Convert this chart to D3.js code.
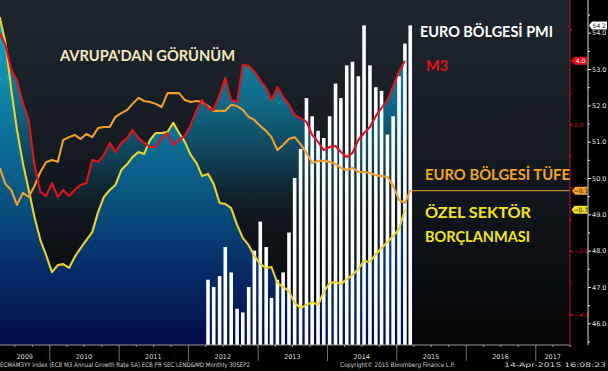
<!DOCTYPE html>
<html>
<head>
<meta charset="utf-8">
<script src="https://cdn.jsdelivr.net/npm/d3@7"></script>
<style>
  html, body { margin: 0; padding: 0; background: #000; }
  svg { display: block; }
</style>
</head>
<body>
<svg id="chart" width="608" height="371"></svg>
<script>
const width = 608;
const height = 371;
const plot = {left: 0, right: 570, top: 0, bottom: 345};

// Monthly series on the left (red) axis, %, starting Apr 2009.
const lineStart = new Date(2009, 3, 15);
const m3 = [
  4.88, 4.50, 3.71, 3.39, 2.67, 2.13, 0.71, -0.14, -0.27, 0.14,
  -0.30, -0.08, -0.27, -0.08, 0.08, 0.14, 0.87, 0.81, 1.03, 1.41,
  1.12, 1.41, 1.56, 1.82, 1.56, 1.41, 1.28, 1.28, 1.56, 1.72,
  1.34, 1.50, 1.63, 1.97, 2.45, 2.76, 2.51, 2.45, 2.92, 3.46,
  2.76, 2.70, 3.87, 3.84, 3.66, 3.39, 3.14, 2.76, 3.17, 2.86,
  2.61, 2.29, 2.19, 2.07, 1.66, 1.44, 1.18, 1.28, 1.31, 1.12,
  0.96, 1.09, 1.50, 1.72, 1.91, 2.26, 2.51, 2.76, 3.20, 3.66, 4.0,
];
const cpi = [
  0.62, 0.11, -0.08, -0.55, -0.17, -0.30, 0.05, 0.49, 0.80, 0.87,
  0.81, 1.50, 1.59, 1.66, 1.53, 1.69, 1.59, 1.88, 1.91, 1.91,
  2.23, 2.35, 2.45, 2.64, 2.83, 2.73, 2.70, 2.64, 2.54, 2.98,
  2.98, 2.98, 2.76, 2.70, 2.73, 2.70, 2.57, 2.42, 2.42, 2.42,
  2.61, 2.57, 2.45, 2.23, 2.13, 1.94, 1.78, 1.59, 1.18, 1.34,
  1.53, 1.59, 1.37, 1.09, 0.77, 0.84, 0.84, 0.81, 0.74, 0.62,
  0.55, 0.62, 0.49, 0.49, 0.46, 0.39, 0.36, 0.33, 0.05, -0.39, -0.49, -0.1,
];
const lending = [
  5.38, 4.59, 3.08, 1.82, 0.77, -0.08, -0.93, -1.66, -2.13, -2.67,
  -2.45, -2.42, -2.54, -2.19, -1.91, -1.66, -1.41, -0.77, -0.30, -0.08,
  0.08, 0.55, 0.74, 0.96, 1.12, 1.06, 1.50, 1.72, 1.72, 1.75,
  2.04, 1.72, 1.44, 1.03, 0.77, 0.36, 0.43, 0.11, -0.49, -0.52,
  -0.65, -1.18, -1.59, -1.82, -2.16, -2.42, -2.54, -2.51, -3.02, -3.14,
  -3.27, -3.65, -3.80, -3.71, -3.62, -3.71, -3.30, -3.02, -2.98, -3.05,
  -2.89, -2.76, -2.57, -2.32, -2.35, -2.10, -1.91, -1.72, -1.53, -1.31, -0.7,
];

// Euro area PMI bars on the right (white) axis, starting Apr 2012.
const pmiStart = new Date(2012, 3, 15);
const pmi = [
  47.2, 47.0, 47.3, 48.1, 47.4, 46.4, 46.3, 47.0, 48.0, 48.8,
  48.1, 46.7, 47.2, 47.4, 48.5, 50.0, 50.8, 52.2, 51.7, 51.3,
  51.1, 51.7, 52.6, 52.2, 53.1, 53.2, 52.8, 54.2, 53.1, 52.5,
  52.4, 51.2, 51.7, 52.8, 53.7, 54.2,
];

const years = [2009, 2010, 2011, 2012, 2013, 2014, 2015, 2016, 2017];
const leftLabelTicks = [-4, -2, 2];
const leftMajorTicks = [-4, -2, 0, 2, 4];
const leftMinorTicks = [-5, -3, -1, 1, 3, 5];
const rightTicks = [46, 47, 48, 49, 50, 51, 52, 53, 54];
const rightMinorTicks = [45.5, 46.5, 47.5, 48.5, 49.5, 50.5, 51.5, 52.5, 53.5, 54.5];

const red = '#e3121b';
const orange = '#f0a02a';
const yellow = '#e9d42c';

const toPoints = (start, values) =>
  values.map((v, i) => ({date: d3.timeMonth.offset(start, i), value: v}));

const m3Data = toPoints(lineStart, m3);
const cpiData = toPoints(lineStart, cpi);
const lendData = toPoints(lineStart, lending);
const pmiData = toPoints(pmiStart, pmi);

const x = d3.scaleTime()
  .domain([new Date(2010, 0, 1), new Date(2017, 0, 1)])
  .range([49.3, 535.3]);
const yLeft = d3.scaleLinear().domain([-4, 4]).range([314.2, 60.8]);
const yRight = d3.scaleLinear().domain([46, 54]).range([323.3, 32.7]);

const svg = d3.select('#chart');
const defs = svg.append('defs');

function gradient(id, stops) {
  defs.append('linearGradient')
    .attr('id', id)
    .attr('gradientUnits', 'userSpaceOnUse')
    .attr('x1', 0).attr('y1', plot.top)
    .attr('x2', 0).attr('y2', plot.bottom)
    .selectAll('stop')
    .data(stops)
    .join('stop')
    .attr('offset', (d) => d[0])
    .attr('stop-color', (d) => d[1])
    .attr('stop-opacity', (d) => (d[2] === undefined ? 1 : d[2]));
}
gradient('bg', [[0, '#1f262f'], [0.6, '#11161c'], [1, '#030405']]);
gradient('fillLend', [[0, '#1aaed0'], [0.3, '#0d80a3'], [0.55, '#0a5884'], [0.78, '#062c68'], [1, '#020b48']]);
gradient('fillM3', [
  [0, '#17a2c4', 0.95], [0.3, '#0e7c9f', 0.8], [0.45, '#0c6688', 0.55],
  [0.56, '#0a5278', 0.2], [0.64, '#08406e', 0.03], [1, '#08406e', 0],
]);

defs.append('clipPath').attr('id', 'plotClip')
  .append('rect')
  .attr('x', plot.left).attr('y', plot.top)
  .attr('width', plot.right - plot.left).attr('height', plot.bottom - plot.top);

svg.append('rect').attr('width', width).attr('height', height).attr('fill', '#000');
svg.append('rect')
  .attr('x', plot.left).attr('y', plot.top)
  .attr('width', plot.right - plot.left).attr('height', plot.bottom - plot.top)
  .attr('fill', 'url(#bg)');

const body = svg.append('g').attr('clip-path', 'url(#plotClip)');

// Area fills under M3 and private lending
const area = d3.area()
  .x((d) => x(d.date))
  .y0(plot.bottom)
  .y1((d) => yLeft(d.value));
body.append('path').datum(m3Data).attr('d', area).attr('fill', 'url(#fillM3)');
body.append('path').datum(lendData).attr('d', area).attr('fill', 'url(#fillLend)');

// PMI bars
const barWidth = 3.6;
body.append('g')
  .selectAll('rect')
  .data(pmiData)
  .join('rect')
  .attr('x', (d) => x(d.date) - barWidth / 2)
  .attr('y', (d) => yRight(d.value))
  .attr('width', barWidth)
  .attr('height', (d) => plot.bottom - yRight(d.value))
  .attr('fill', '#fbfcff');

// Lines
const line = d3.line().x((d) => x(d.date)).y((d) => yLeft(d.value));
[[lendData, yellow], [cpiData, orange], [m3Data, red]].forEach(([data, color]) => {
  body.append('path')
    .datum(data)
    .attr('d', line)
    .attr('fill', 'none')
    .attr('stroke', color)
    .attr('stroke-width', 2.1)
    .attr('stroke-linejoin', 'round');
});

// Last-value guide for inflation
const lastCpi = cpiData[cpiData.length - 1];
svg.append('line')
  .attr('x1', x(lastCpi.date)).attr('x2', plot.right)
  .attr('y1', yLeft(lastCpi.value)).attr('y2', yLeft(lastCpi.value))
  .attr('stroke', orange).attr('stroke-width', 1);

// Bottom axis: quarter ticks, year separators and labels
svg.append('line')
  .attr('x1', plot.left).attr('x2', plot.right)
  .attr('y1', plot.bottom).attr('y2', plot.bottom)
  .attr('stroke', '#9a9a9a');
const xDomain = [x.invert(plot.left), x.invert(plot.right)];
const quarterAxis = d3.axisBottom(x)
  .tickValues(d3.timeMonth.every(3).range(...xDomain))
  .tickSize(2).tickFormat('');
svg.append('g').attr('transform', `translate(0,${plot.bottom})`).call(quarterAxis)
  .call((g) => g.select('.domain').remove())
  .call((g) => g.selectAll('line').attr('stroke', '#9a9a9a'));
const yearAxis = d3.axisBottom(x)
  .tickValues(d3.timeYear.range(...xDomain))
  .tickSize(16).tickFormat('');
svg.append('g').attr('transform', `translate(0,${plot.bottom})`).call(yearAxis)
  .call((g) => g.select('.domain').remove())
  .call((g) => g.selectAll('line').attr('stroke', '#6e6e6e'));
svg.append('g')
  .selectAll('text')
  .data(years)
  .join('text')
  .attr('x', (yr) => {
    const a = Math.max(plot.left, x(new Date(yr, 0, 1)));
    const b = Math.min(plot.right, x(new Date(yr + 1, 0, 1)));
    return (a + b) / 2;
  })
  .attr('y', 359)
  .attr('text-anchor', 'middle')
  .attr('font-family', 'DejaVu Sans, sans-serif')
  .attr('font-size', 6.5)
  .attr('fill', '#d8d8d8')
  .text((yr) => yr);

// Left-value (red) axis, drawn at the right edge of the plot
svg.append('line')
  .attr('x1', plot.right).attr('x2', plot.right)
  .attr('y1', plot.top).attr('y2', plot.bottom)
  .attr('stroke', '#c8101a');
const redAxis = svg.append('g').attr('transform', `translate(${plot.right},0)`);
redAxis.append('g')
  .call(d3.axisRight(yLeft).tickValues(leftMajorTicks).tickSize(3).tickFormat(''))
  .call((g) => g.select('.domain').remove());
redAxis.append('g')
  .call(d3.axisRight(yLeft).tickValues(leftMinorTicks).tickSize(2).tickFormat(''))
  .call((g) => g.select('.domain').remove());
redAxis.append('g')
  .call(d3.axisRight(yLeft).tickValues(leftLabelTicks).tickSize(3).tickPadding(1)
    .tickFormat(d3.format('.1f')))
  .call((g) => g.select('.domain').remove());
redAxis.selectAll('line').attr('stroke', red);
redAxis.selectAll('text')
  .attr('fill', red)
  .attr('font-family', 'DejaVu Sans, sans-serif')
  .attr('font-size', 6);

// PMI (white) axis
const pmiAxisX = 588;
svg.append('line')
  .attr('x1', pmiAxisX).attr('x2', pmiAxisX)
  .attr('y1', plot.top).attr('y2', plot.bottom)
  .attr('stroke', '#d8d8d8');
const whiteAxis = svg.append('g').attr('transform', `translate(${pmiAxisX},0)`);
whiteAxis.append('g')
  .call(d3.axisRight(yRight).tickValues(rightMinorTicks).tickSize(2).tickFormat(''))
  .call((g) => g.select('.domain').remove());
whiteAxis.append('g')
  .call(d3.axisRight(yRight).tickValues(rightTicks).tickSize(3).tickPadding(1)
    .tickFormat(d3.format('.1f')))
  .call((g) => g.select('.domain').remove());
whiteAxis.selectAll('line').attr('stroke', '#e6e6e6');
whiteAxis.selectAll('text')
  .attr('fill', '#e6e6e6')
  .attr('font-family', 'DejaVu Sans, sans-serif')
  .attr('font-size', 6.5);

// Last-value tags
function valueTag(tx, ty, w, fill, color, label) {
  const g = svg.append('g');
  g.append('path')
    .attr('d', `M${tx},${ty} L${tx + 3},${ty - 4} H${tx + w} V${ty + 4} H${tx + 3} Z`)
    .attr('fill', fill);
  g.append('text')
    .attr('x', tx + 2.5 + (w - 2.5) / 2)
    .attr('y', ty + 2.2)
    .attr('text-anchor', 'middle')
    .attr('font-family', 'DejaVu Sans, sans-serif')
    .attr('font-size', 6)
    .attr('fill', color)
    .text(label);
}
const fmt = d3.format('.1f');
const last = (arr) => arr[arr.length - 1].value;
valueTag(571.5, yLeft(last(m3Data)), 15.5, '#e3121b', '#ffffff', fmt(last(m3Data)));
valueTag(572, yLeft(last(cpiData)), 15.5, '#f0a02a', '#2a1a00', fmt(last(cpiData)));
valueTag(571.5, yLeft(last(lendData)), 16, '#eedd2a', '#2a2200', fmt(last(lendData)));
valueTag(589, yRight(last(pmiData)), 18, '#ffffff', '#222222', fmt(last(pmiData)));

// Annotations
const notes = [
  {text: 'AVRUPA\'DAN GÖRÜNÜM', x: 60, y: 61, len: 175, size: 16, color: '#f3e9bc'},
  {text: 'EURO BÖLGESİ PMI', x: 420, y: 37, len: 133, size: 15.5, color: '#ffffff'},
  {text: 'M3', x: 426, y: 71, len: 22, size: 15.5, color: '#e3121b'},
  {text: 'EURO BÖLGESİ TÜFE', x: 425, y: 180, len: 145, size: 15.5, color: '#f2a41e'},
  {text: 'ÖZEL SEKTÖR', x: 425, y: 218, len: 106, size: 15.5, color: '#f2e51e'},
  {text: 'BORÇLANMASI', x: 425, y: 242, len: 105, size: 15.5, color: '#f2e51e'},
];
svg.append('g')
  .selectAll('text')
  .data(notes)
  .join('text')
  .attr('x', (d) => d.x)
  .attr('y', (d) => d.y)
  .attr('textLength', (d) => d.len)
  .attr('lengthAdjust', 'spacingAndGlyphs')
  .attr('font-family', 'Lato, sans-serif')
  .attr('font-weight', 'bold')
  .attr('font-size', (d) => d.size)
  .attr('fill', (d) => d.color)
  .text((d) => d.text);

// Footer
const footer = [
  {text: 'ECMAM3YY Index (ECB M3 Annual Growth Rate SA) ECB PR SEC LEND&MD  Monthly 30SEP2', x: 0, len: 250},
  {text: 'Copyright© 2015 Bloomberg Finance L.P.', x: 340, len: 115},
  {text: '14-Apr-2015 16:08:23', x: 504, len: 102},
];
svg.append('g')
  .selectAll('text')
  .data(footer)
  .join('text')
  .attr('x', (d) => d.x)
  .attr('y', 367)
  .attr('textLength', (d) => d.len)
  .attr('lengthAdjust', 'spacingAndGlyphs')
  .attr('font-family', 'DejaVu Sans, sans-serif')
  .attr('font-size', 6.3)
  .attr('fill', '#d0d0d0')
  .text((d) => d.text);
</script>
</body>
</html>
